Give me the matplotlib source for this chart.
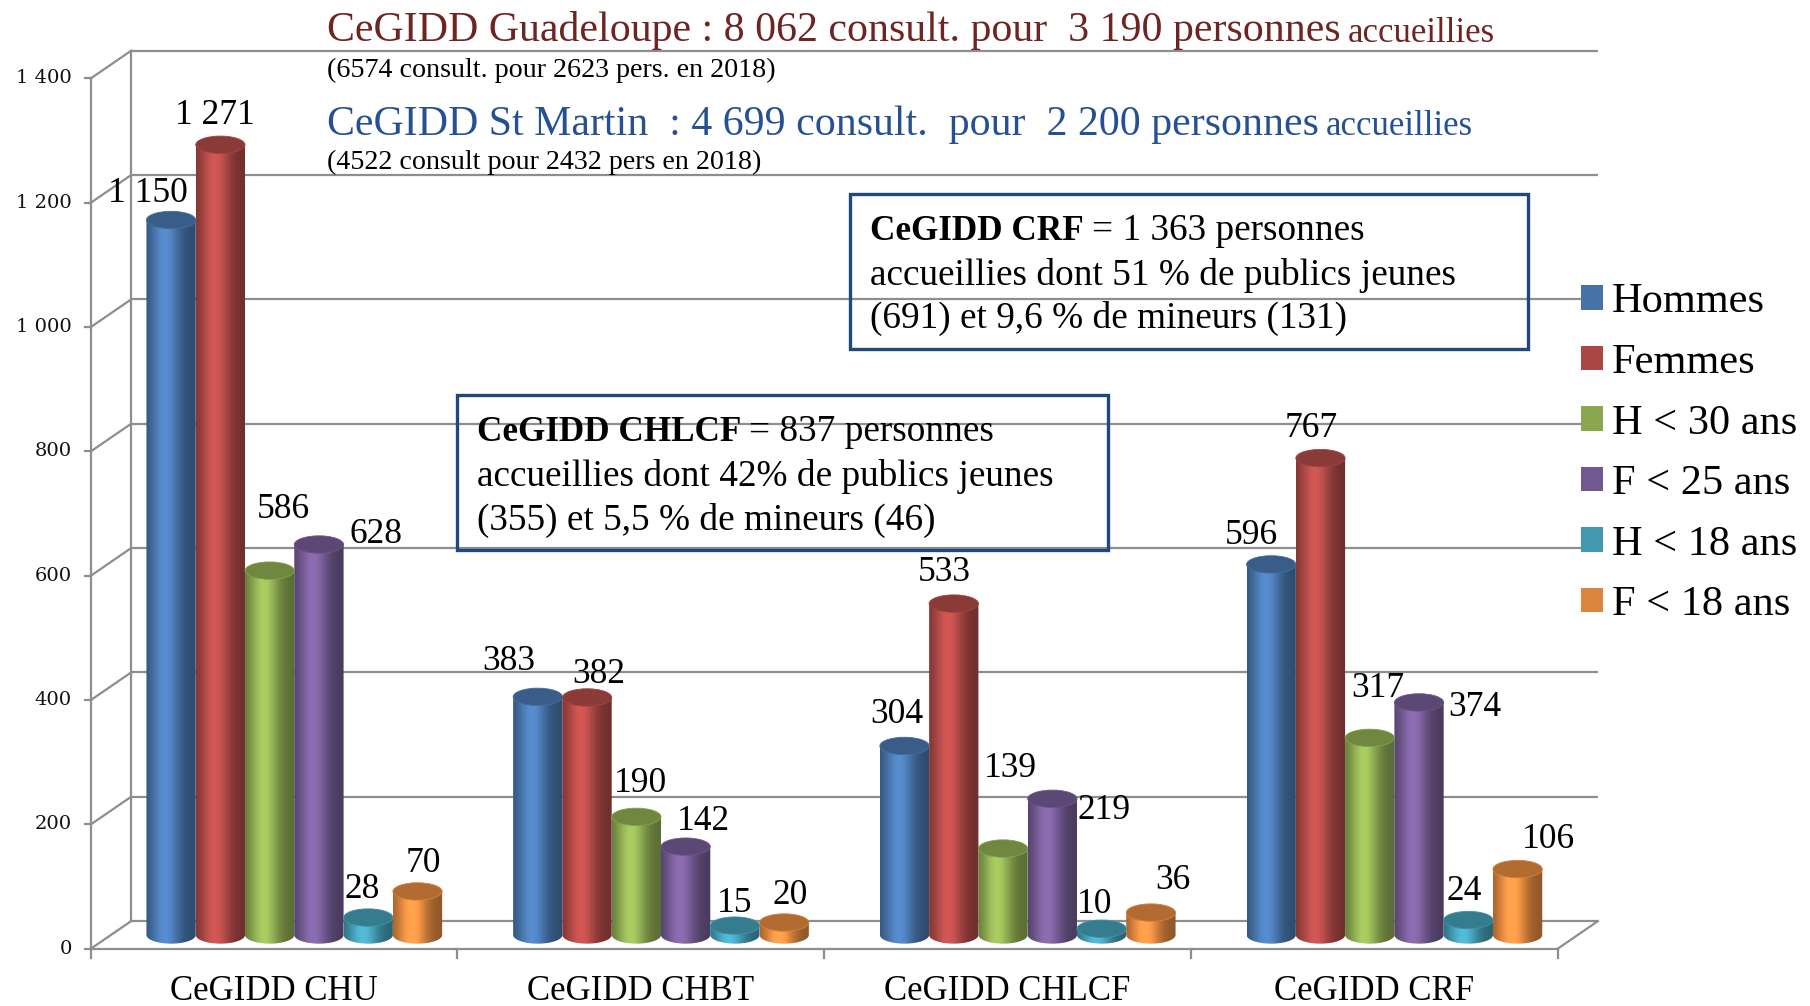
import numpy as np
import matplotlib
matplotlib.use("Agg")
import matplotlib.pyplot as plt
from matplotlib.patches import Ellipse, Rectangle, Patch, PathPatch
from matplotlib.path import Path
from matplotlib.colors import to_rgb

# ---------------- data ----------------
categories = ["CeGIDD CHU", "CeGIDD CHBT", "CeGIDD CHLCF", "CeGIDD CRF"]
series_names = ["Hommes", "Femmes", "H < 30 ans", "F < 25 ans", "H < 18 ans", "F < 18 ans"]
hommes = [1150, 383, 304, 596]
femmes = [1271, 382, 533, 767]
h_moins_30 = [586, 190, 139, 317]
f_moins_25 = [628, 142, 219, 374]
h_moins_18 = [28, 15, 10, 24]
f_moins_18 = [70, 20, 36, 106]
y_ticks = [0, 200, 400, 600, 800, 1000, 1200, 1400]

series_values = [hommes, femmes, h_moins_30, f_moins_25, h_moins_18, f_moins_18]

# ---------------- styles ----------------
series_colors = ["#4F81BD", "#C0504D", "#9BBB59", "#8064A2", "#4BACC6", "#F79646"]
legend_colors = ["#4672A8", "#AA4644", "#8AA64F", "#715990", "#4399B0", "#DB853E"]
# label offsets (pixels, x right / y down) relative to top of each cylinder
label_offsets = [
    [(-20, -23), (-25, -31), (-7, -27), (-17, -25)],
    [(-5, -25), (10, -20), (-8, -27), (-8, -26)],
    [(12, -53), (4, -29), (6, -69), (7, -43)],
    [(49, -9), (15, -22), (45, 10), (48, 4)],
    [(-5, -24), (0, -19), (-6, -21), (-4, -25)],
    [(5, -24), (5, -23), (19, -28), (27, -26)],
]
SC = 1810 / 1568.0

W_FIG, H_FIG = 1810, 1006
fig = plt.figure(figsize=(W_FIG / 100, H_FIG / 100), dpi=100)
ax = fig.add_axes([0, 0, 1, 1])
ax.axis("off")

X0_PX, XU = 294.3, 366.7          # pixel of category 0 (mid depth), px per category
Y0_PX, YU = 71.05, 0.6217         # pixel (from bottom) of value 0 (mid depth), px per unit
xlim = (-X0_PX / XU, (W_FIG - X0_PX) / XU)
ylim = (-Y0_PX / YU, (H_FIG - Y0_PX) / YU)

DX, DY = 0.1102, 44.6              # depth of the 3-D box in data units
BW = 0.1344                        # cylinder width
EH = 28.0                          # ellipse height (data units)

SERIF = "Liberation Serif"
grid_c = "#8E8E8E"
glw = 1.6

x_fl = -0.5 - DX / 2
x_bl = -0.5 + DX / 2
x_fr = len(categories) - 0.5 - DX / 2
x_br = len(categories) - 0.5 + DX / 2
ymax = y_ticks[-1]

# back wall grid + left wall diagonals + ticks
for v in y_ticks:
    ax.plot([x_bl, x_br], [v + DY / 2] * 2, color=grid_c, lw=glw, zorder=1, solid_capstyle="butt")
    ax.plot([x_fl, x_bl], [v - DY / 2, v + DY / 2], color=grid_c, lw=glw, zorder=1)
    ax.plot([x_fl - 6 / XU, x_fl], [v - DY / 2] * 2, color=grid_c, lw=glw, zorder=1)
    ax.text(x_fl - 19 / XU, v - DY / 2, f"{v:,}".replace(",", " "), ha="right", va="center",
            fontsize=14, family="DejaVu Serif", color="#111111")
ax.plot([x_fl, x_fl], [-DY / 2, ymax - DY / 2], color=grid_c, lw=glw, zorder=1)
ax.plot([x_bl, x_bl], [DY / 2, ymax + DY / 2], color=grid_c, lw=glw, zorder=1)
ax.plot([x_fl, x_fr], [-DY / 2] * 2, color=grid_c, lw=glw, zorder=1)
ax.plot([x_fr, x_br], [-DY / 2, DY / 2], color=grid_c, lw=glw, zorder=1)
for k in range(len(categories) + 1):
    xk = -0.5 + k - DX / 2
    ax.plot([xk, xk], [-DY / 2, -DY / 2 - 9 / YU], color=grid_c, lw=glw, zorder=1)
for g, name in enumerate(categories):
    ax.text(g - DX / 2, (6 - Y0_PX) / YU, name, ha="center", va="baseline",
            fontsize=25, family=SERIF)


def draw_cyl(xc, v, color, z):
    x0, x1 = xc - BW / 2, xc + BW / 2
    base = np.array(to_rgb(color))
    t = np.linspace(0, 1, 96)
    f = 0.58 + 0.52 * np.exp(-((t - 0.38) / 0.30) ** 2)
    rgb = np.clip(base[None, :] * f[:, None], 0, 1)[None, :, :]
    theta = np.linspace(np.pi, 2 * np.pi, 50)
    bx = xc + BW / 2 * np.cos(theta)
    by = EH / 2 * np.sin(theta)
    verts = [(x0, v)] + list(zip(bx, by)) + [(x1, v), (x0, v)]
    codes = [Path.MOVETO] + [Path.LINETO] * (len(verts) - 2) + [Path.CLOSEPOLY]
    clip = PathPatch(Path(verts, codes), transform=ax.transData, facecolor="none", edgecolor="none")
    ax.add_patch(clip)
    im = ax.imshow(rgb, extent=(x0, x1, -EH / 2, v), aspect="auto", interpolation="bilinear",
                   zorder=z, origin="lower")
    im.set_clip_path(clip)
    top = np.clip(base * 0.72, 0, 1)
    ax.add_patch(Ellipse((xc, v), BW, EH, facecolor=top, edgecolor=np.clip(base * 0.85, 0, 1),
                         lw=0.6, zorder=z + 0.1))


for i, vals in enumerate(series_values):
    for g, v in enumerate(vals):
        xc = g + (i - 2.5) * BW
        draw_cyl(xc, v, series_colors[i], 3 + i * 0.01)
        dx, dy = label_offsets[i][g]
        ax.annotate(f"{v:,}".replace(",", " "), (xc, v), xytext=(dx * SC, -dy * SC),
                    textcoords="offset pixels", ha="center", va="center",
                    fontsize=25.5, family=SERIF, zorder=6)

ax.set_xlim(*xlim)
ax.set_ylim(*ylim)
ax.set_autoscale_on(False)

renderer = fig.canvas.get_renderer()


def fx(x):
    return x / W_FIG


def fy(y):
    return 1 - y / H_FIG


def rich_line(x, y, parts):
    for txt, props, gap in parts:
        x += gap
        t = fig.text(fx(x), fy(y), txt, ha="left", va="baseline", family=SERIF, **props)
        bb = t.get_window_extent(renderer)
        x = bb.x1


red_t = "#6E2422"
blue_t = "#255193"
rich_line(327, 41.5, [("CeGIDD Guadeloupe : 8 062 consult. pour  3 190 personnes", dict(fontsize=30.2, color=red_t), 0),
                      ("accueillies", dict(fontsize=25, color=red_t), 7)])
rich_line(327, 77, [("(6574 consult. pour 2623 pers. en 2018)", dict(fontsize=20.2), 0)])
rich_line(327, 135, [("CeGIDD St Martin  : 4 699 consult.  pour  2 200 personnes", dict(fontsize=30.2, color=blue_t), 0),
                     ("accueillies", dict(fontsize=25, color=blue_t), 7)])
rich_line(327, 169, [("(4522 consult pour 2432 pers en 2018)", dict(fontsize=20.2), 0)])

box_c = "#1F497D"
BFS = 26.8
BFS_B = 25.3
# CRF box
fig.patches.append(Rectangle((fx(849.6), fy(348.6)), (1528.3 - 849.6) / W_FIG, (348.6 - 193.9) / H_FIG,
                             transform=fig.transFigure, facecolor="none", edgecolor=box_c, lw=2.4, zorder=7))
rich_line(870, 240, [("CeGIDD CRF", dict(fontsize=BFS_B, weight="bold"), 0),
                     ("= 1 363 personnes", dict(fontsize=BFS), 8)])
rich_line(870, 285, [("accueillies dont 51 % de publics jeunes", dict(fontsize=BFS), 0)])
rich_line(870, 328, [("(691) et 9,6 % de mineurs (131)", dict(fontsize=BFS), 0)])
# CHLCF box
fig.patches.append(Rectangle((fx(457), fy(549.5)), (1108 - 457) / W_FIG, (549.5 - 394.8) / H_FIG,
                             transform=fig.transFigure, facecolor="none", edgecolor=box_c, lw=2.4, zorder=7))
rich_line(477, 441, [("CeGIDD CHLCF", dict(fontsize=BFS_B, weight="bold"), 0),
                     ("= 837 personnes", dict(fontsize=BFS), 8)])
rich_line(477, 486, [("accueillies dont 42% de publics jeunes", dict(fontsize=BFS), 0)])
rich_line(477, 530, [("(355) et 5,5 % de mineurs (46)", dict(fontsize=BFS), 0)])

handles = [Patch(facecolor=c, edgecolor="none") for c in legend_colors]
fig.legend(handles, series_names, loc="upper left", bbox_to_anchor=(fx(1581), fy(283)),
           frameon=False, prop={"family": SERIF, "size": 30.5}, handlelength=0.52, handleheight=0.52,
           handletextpad=0.2, labelspacing=0.52, borderpad=0, borderaxespad=0)

fig.savefig("out.png", dpi=100)
